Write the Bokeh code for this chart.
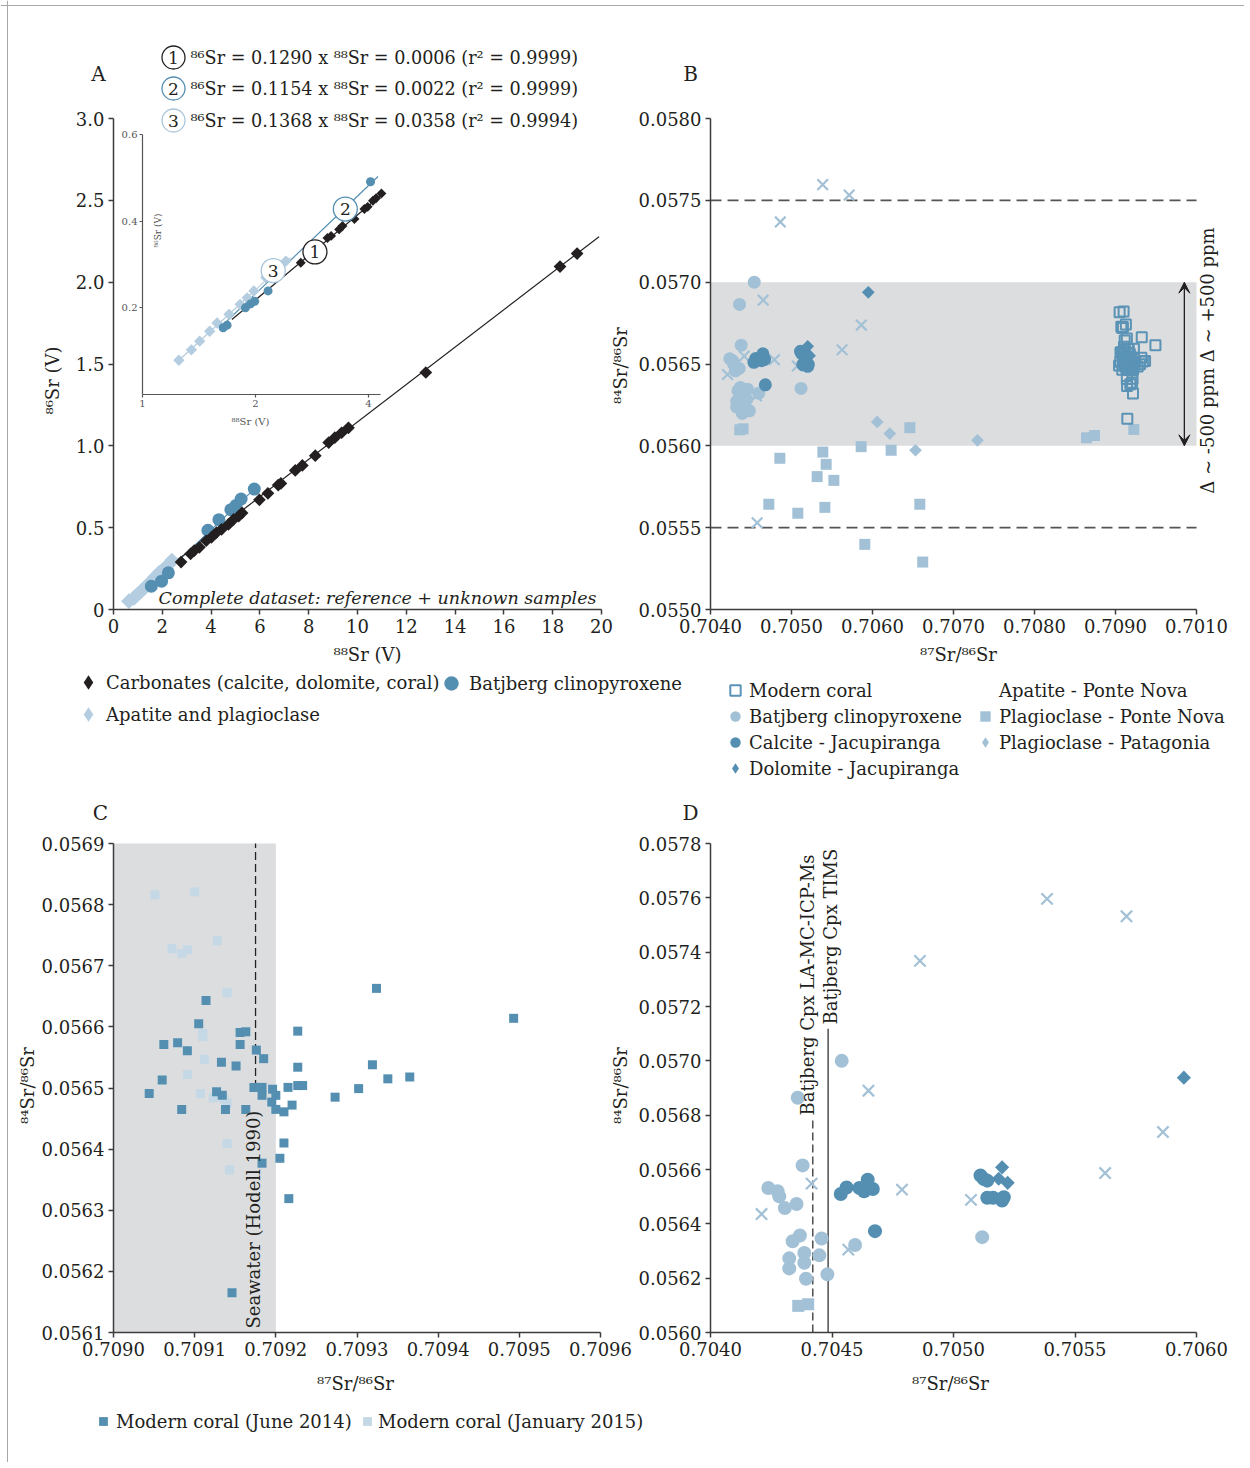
import math
from bokeh.plotting import figure
from bokeh.models import (Range1d, LinearAxis, LogAxis, LogScale, FixedTicker,
                          NumeralTickFormatter, PrintfTickFormatter, Label, Legend,
                          LegendItem, Arrow, VeeHead, Span)
from bokeh.embed import file_html
from bokeh.resources import INLINE
from bokeh.core.properties import value

# ======================= DATA =======================
# ---- Panel A (main): 88Sr (V) vs 86Sr (V)
a_carb_88 = [19.0, 18.3, 12.8, 9.63, 9.35, 9.07, 8.82, 8.27, 7.74, 7.45, 6.86, 6.75, 6.33,
             5.98, 5.27, 5.13, 4.92, 4.71, 4.43, 4.22, 4.01, 3.80, 3.52, 3.31, 3.16, 2.77]
a_carb_86 = [2.175, 2.095, 1.448, 1.11, 1.08, 1.05, 1.02, 0.94, 0.88, 0.85, 0.77, 0.76, 0.71,
             0.67, 0.59, 0.57, 0.55, 0.52, 0.49, 0.47, 0.44, 0.42, 0.38, 0.36, 0.34, 0.29]
a_cpx_88 = [5.77, 5.23, 5.02, 4.81, 4.32, 3.87, 2.25, 1.97, 1.55]
a_cpx_86 = [0.736, 0.675, 0.636, 0.61, 0.549, 0.484, 0.224, 0.173, 0.142]
a_apa_88 = [0.63, 0.84, 0.98, 1.13, 1.27, 1.41, 1.55, 1.69, 1.87, 2.04, 2.25, 2.39]
a_apa_86 = [0.051, 0.071, 0.091, 0.112, 0.132, 0.152, 0.173, 0.197, 0.224, 0.244, 0.274, 0.299]
a_fit1_88, a_fit1_86 = [1.5, 19.9], [0.174, 2.278]
a_fit2_88, a_fit2_86 = [1.5, 5.8], [0.135, 0.740]
a_fit3_88, a_fit3_86 = [0.6, 2.6], [0.05, 0.32]

# ---- Panel A inset
i_carb_88 = [2.64, 3.11, 3.18, 3.34, 3.41, 3.67, 3.90, 3.98, 4.11, 4.19, 4.33]
i_carb_86 = [0.304, 0.361, 0.366, 0.381, 0.389, 0.405, 0.428, 0.433, 0.447, 0.453, 0.464]
i_cpx_88 = [4.05, 2.16, 1.99, 1.94, 1.88, 1.68, 1.64]
i_cpx_86 = [0.491, 0.239, 0.215, 0.209, 0.200, 0.160, 0.154]
i_apa_88 = [1.25, 1.35, 1.42, 1.51, 1.58, 1.70, 1.82, 1.90, 1.98, 2.13, 2.28, 2.41]
i_apa_86 = [0.079, 0.103, 0.123, 0.146, 0.165, 0.185, 0.208, 0.223, 0.239, 0.270, 0.285, 0.308]
i_fit1_88, i_fit1_86 = [1.73, 4.41], [0.173, 0.466]
i_fit2_88, i_fit2_86 = [1.64, 4.24], [0.161, 0.503]
i_fit3_88, i_fit3_86 = [1.25, 2.48], [0.079, 0.316]
i_tag_text = ["1", "2", "3"]
i_tag_88 = [2.88, 3.47, 2.23]
i_tag_86 = [0.329, 0.428, 0.286]

equations = ["\u2078\u2076Sr = 0.1290 x \u2078\u2078Sr = 0.0006 (r\u00b2 = 0.9999)",
             "\u2078\u2076Sr = 0.1154 x \u2078\u2078Sr = 0.0022 (r\u00b2 = 0.9999)",
             "\u2078\u2076Sr = 0.1368 x \u2078\u2078Sr = 0.0358 (r\u00b2 = 0.9994)"]

# ---- Panels B and D: 87Sr/86Sr vs 84Sr/86Sr
bat_x = [0.704540, 0.704359, 0.704379, 0.704238, 0.704276, 0.704283, 0.704306, 0.704354,
         0.704457, 0.704368, 0.704338, 0.704595, 0.704386, 0.704324, 0.704448, 0.704386,
         0.704324, 0.704393, 0.704481, 0.705118]
bat_y = [0.057000, 0.056864, 0.056615, 0.056532, 0.056520, 0.056501, 0.056458, 0.056473,
         0.056346, 0.056357, 0.056336, 0.056322, 0.056293, 0.056273, 0.056284, 0.056257,
         0.056236, 0.056198, 0.056214, 0.056351]
cal_x = [0.704536, 0.704560, 0.704613, 0.704632, 0.704647, 0.704668, 0.704677,
         0.705111, 0.705125, 0.705139, 0.705139, 0.705163, 0.705207, 0.705200]
cal_y = [0.056510, 0.056534, 0.056532, 0.056520, 0.056562, 0.056528, 0.056373,
         0.056578, 0.056565, 0.056559, 0.056496, 0.056496, 0.056498, 0.056486]
dol_x = [0.705948, 0.705200, 0.705223, 0.705186]
dol_y = [0.056938, 0.056608, 0.056551, 0.056566]
apa_x = [0.705385, 0.705712, 0.704862, 0.704650, 0.705862, 0.705624, 0.704416, 0.704788,
         0.705072, 0.704210, 0.704567, 0.704576]
apa_y = [0.057596, 0.057532, 0.057368, 0.056890, 0.056738, 0.056587, 0.056548, 0.056526,
         0.056488, 0.056436, 0.056305, 0.055530]
pn_x = [0.704361, 0.704402, 0.704856, 0.705387, 0.705428, 0.705317, 0.705523, 0.704720,
        0.705078, 0.705412, 0.705860, 0.706230, 0.706461, 0.706584, 0.705905, 0.706620,
        0.708642, 0.708741, 0.709226]
pn_y = [0.056098, 0.056104, 0.055924, 0.055962, 0.055887, 0.055812, 0.055789, 0.055643,
        0.055588, 0.055624, 0.055995, 0.055973, 0.056111, 0.055643, 0.055398, 0.055290,
        0.056049, 0.056063, 0.056100]
pat_x = [0.706058, 0.706214, 0.706531, 0.707296]
pat_y = [0.056146, 0.056075, 0.055973, 0.056034]
b_band = (0.0560, 0.0570)
b_limits = (0.0555, 0.0575)
d_lamc_x, d_lamc_top = 0.704421, 0.056793
d_tims_x, d_tims_top = 0.704484, 0.057118

# ---- Panel C: modern coral
jun_x = [0.709044, 0.709060, 0.709062, 0.709079, 0.709091, 0.709084, 0.709105, 0.709114,
         0.709133, 0.709127, 0.709134, 0.709138, 0.709151, 0.709156, 0.709156, 0.709163,
         0.709163, 0.709176, 0.709185, 0.709173, 0.709183, 0.709183, 0.709183, 0.709146,
         0.709196, 0.709200, 0.709195, 0.709200, 0.709210, 0.709215, 0.709220, 0.709210,
         0.709205, 0.709216, 0.709227, 0.709227, 0.709227, 0.709233, 0.709273, 0.709324,
         0.709493, 0.709319, 0.709338, 0.709365, 0.709302]
jun_y = [0.056491, 0.056513, 0.056571, 0.056574, 0.056561, 0.056465, 0.056605, 0.056643,
         0.056542, 0.056494, 0.056488, 0.056465, 0.056536, 0.056571, 0.056591, 0.056592,
         0.056465, 0.056562, 0.056548, 0.056501, 0.056501, 0.056488, 0.056377, 0.056165,
         0.056498, 0.056488, 0.056477, 0.056465, 0.056461, 0.056501, 0.056472, 0.056410,
         0.056385, 0.056319, 0.056593, 0.056534, 0.056504, 0.056504, 0.056485, 0.056663,
         0.056614, 0.056538, 0.056515, 0.056518, 0.056499]
jan_x = [0.709051, 0.709100, 0.709072, 0.709084, 0.709091, 0.709128, 0.709140, 0.709110,
         0.709110, 0.709112, 0.709091, 0.709107, 0.709123, 0.709136, 0.709140, 0.709140,
         0.709143]
jan_y = [0.056816, 0.056821, 0.056728, 0.056720, 0.056726, 0.056741, 0.056656, 0.056589,
         0.056584, 0.056547, 0.056522, 0.056491, 0.056484, 0.056482, 0.056475, 0.056409,
         0.056366]
c_band = (0.7090, 0.7092)
c_seawater_x, c_seawater_y = 0.709175, (0.05650, 0.0569)

# ---- tick values
a_xticks = [0, 2, 4, 6, 8, 10, 12, 14, 16, 18, 20]
a_yticks = [0, 0.5, 1.0, 1.5, 2.0, 2.5, 3.0]
i_xticks = [1, 2, 4]
i_yticks = [0.2, 0.4, 0.6]
b_xticks = [0.7040, 0.7050, 0.7060, 0.7070, 0.7080, 0.7090, 0.7100]
b_yticks = [0.0550, 0.0555, 0.0560, 0.0565, 0.0570, 0.0575, 0.0580]
c_xticks = [0.7090, 0.7091, 0.7092, 0.7093, 0.7094, 0.7095, 0.7096]
c_yticks = [0.0561, 0.0562, 0.0563, 0.0564, 0.0565, 0.0566, 0.0567, 0.0568, 0.0569]
d_xticks = [0.7040, 0.7045, 0.7050, 0.7055, 0.7060]
d_yticks = [0.0560, 0.0562, 0.0564, 0.0566, 0.0568, 0.0570, 0.0572, 0.0574, 0.0576, 0.0578]

# ======================= STYLE / LAYOUT =======================
FONT = "DejaVu Serif"
TXT = "#231f20"
AXC = "#3c3c3c"
BLACK = "#231f20"
DARK = "#548fb2"
LIGHT = "#a3c1d6"
LIGHT_A = "#b4cde0"
PALE = "#c4d8e6"
BAND = "#dcdddf"

W, H = 1244, 1462
OX, OY = 0, 0   # canvas origin on the photographed page

p = figure(width=W, height=H, x_range=Range1d(OX, OX + W), y_range=Range1d(OY + H, OY),
           x_axis_type=None, y_axis_type=None, toolbar_location=None,
           output_backend="svg", min_border=0, outline_line_color=None)

# thin frame lines (left and top) around the whole figure
p.add_layout(Span(location=7, dimension="height", line_color="#a8a8a8", line_width=1))
p.add_layout(Span(location=5, dimension="width", line_color="#a8a8a8", line_width=1))


def lin_map(v0, p0, v1, p1, lo, hi):
    s = (v1 - v0) / (p1 - p0)
    return Range1d(start=v0 + (lo - p0) * s, end=v0 + (hi - p0) * s)


def log_map(v0, p0, v1, p1, lo, hi):
    l0, l1 = math.log10(v0), math.log10(v1)
    s = (l1 - l0) / (p1 - p0)
    return Range1d(start=10 ** (l0 + (lo - p0) * s), end=10 ** (l0 + (hi - p0) * s))


GEOM = {
    "A": dict(x=(0, 113, 20, 601), y=(0, 609, 3.0, 118)),
    "B": dict(x=(0.7040, 710, 0.7100, 1196), y=(0.0550, 609, 0.0580, 118)),
    "C": dict(x=(0.7090, 113, 0.7096, 600), y=(0.0561, 1332, 0.0569, 843)),
    "D": dict(x=(0.7040, 710, 0.7060, 1196), y=(0.0560, 1332, 0.0578, 843)),
}
xr, yr = {}, {}
for k, g in GEOM.items():
    xr[k] = lin_map(*g["x"], OX, OX + W)
    yr[k] = lin_map(*g["y"], OY + H, OY)
xr["I"] = log_map(1, 142, 4, 368, OX, OX + W)
yr["I"] = lin_map(0, 394, 0.6, 134, OY + H, OY)
p.extra_x_ranges = xr
p.extra_y_ranges = yr
p.extra_x_scales = {"I": LogScale()}


def axis_pair(name, xticks, yticks, xfmt, yfmt, xb, yb, size="18px", tick=5, lw=1.5,
              color=AXC, lcolor=TXT, standoff=4, log_x=False):
    common = dict(x_range_name=name, y_range_name=name, axis_line_color=color,
                  axis_line_width=lw, major_tick_line_color=color, major_tick_line_width=lw,
                  major_tick_in=0, major_tick_out=tick, minor_tick_line_color=None,
                  major_label_text_font=FONT, major_label_text_font_size=size,
                  major_label_text_color=lcolor, major_label_standoff=standoff)
    XA = LogAxis if log_x else LinearAxis
    xa = XA(fixed_location=yb[0], bounds=xb, ticker=FixedTicker(ticks=xticks),
            formatter=xfmt, **common)
    ya = LinearAxis(fixed_location=xb[0], bounds=yb, ticker=FixedTicker(ticks=yticks),
                    formatter=yfmt, **common)
    p.add_layout(xa, "below")
    p.add_layout(ya, "left")
    return xa, ya


def label(x, y, s, size="18px", align="center", baseline="middle", angle=0.0,
          style="normal", color=TXT):
    p.add_layout(Label(x=x, y=y, text=s, text_font=FONT, text_font_size=size,
                       text_align=align, text_baseline=baseline, angle=angle,
                       text_font_style=style, text_color=color))


def legend(entries, left, bottom, gw, gh, standoff=0, size="18px"):
    items = [LegendItem(label=t, renderers=[r]) for t, r in entries]
    lg = Legend(items=items, location=(left - OX, OY + H - bottom), orientation="vertical",
                glyph_width=gw, glyph_height=gh, label_standoff=standoff, label_height=16,
                label_width=10, padding=0, margin=0, spacing=0, border_line_color=None,
                background_fill_alpha=0, label_text_font=FONT, label_text_font_size=size,
                label_text_color=TXT)
    p.add_layout(lg)


NAN = [float("nan")]
ROT = math.pi / 4
VERT = math.pi / 2

# ======================= PANEL A =======================
A = dict(x_range_name="A", y_range_name="A")
I = dict(x_range_name="I", y_range_name="I")
p.line(a_fit3_88, a_fit3_86, line_color=LIGHT_A, line_width=1.3, **A)
p.line(a_fit2_88, a_fit2_86, line_color=DARK, line_width=1.2, **A)
p.line(a_fit1_88, a_fit1_86, line_color=BLACK, line_width=1.2, **A)
rA_apa = p.scatter(a_apa_88, a_apa_86, marker="square", angle=ROT, size=11,
                   fill_color=LIGHT_A, line_color=None, **A)
rA_cpx = p.scatter(a_cpx_88, a_cpx_86, marker="circle", size=13, fill_color=DARK,
                   line_color=None, **A)
rA_carb = p.scatter(a_carb_88, a_carb_86, marker="square", angle=ROT, size=9,
                    fill_color=BLACK, line_color=None, **A)

# inset
p.line(i_fit3_88, i_fit3_86, line_color=LIGHT_A, line_width=1.2, **I)
p.line(i_fit2_88, i_fit2_86, line_color=DARK, line_width=1.2, **I)
p.line(i_fit1_88, i_fit1_86, line_color=BLACK, line_width=1.2, **I)
p.scatter(i_apa_88, i_apa_86, marker="square", angle=ROT, size=8, fill_color=LIGHT_A,
          line_color=None, **I)
p.scatter(i_cpx_88, i_cpx_86, marker="circle", size=9, fill_color=DARK, line_color=None, **I)
p.scatter(i_carb_88, i_carb_86, marker="square", angle=ROT, size=7, fill_color=BLACK,
          line_color=None, **I)
ring_cols = [BLACK, DARK, "#a9c6da"]
p.scatter(i_tag_88, i_tag_86, marker="circle", size=24, fill_color="white",
          line_color=ring_cols, line_width=1.3, **I)
p.text(i_tag_88, i_tag_86, text=i_tag_text, text_font=value(FONT), text_font_size="17px",
       text_align="center", text_baseline="middle", text_color=TXT, **I)

axA = axis_pair("A", a_xticks, a_yticks, PrintfTickFormatter(format="%d"),
                PrintfTickFormatter(format="%.1f"), (0, 20), (0, 3.0))
axA[1].major_label_overrides = {0: "0"}
axis_pair("I", i_xticks, i_yticks, PrintfTickFormatter(format="%d"),
          PrintfTickFormatter(format="%.1f"), (1, 4.3), (0, 0.6), size="10px", tick=3,
          lw=1.2, color="#555555", lcolor="#555555", standoff=2, log_x=True)

# equations legend (circled numbers) above panel A
eq_px_x, eq_px_y = [173, 173, 173], [57, 88, 120]
p.scatter(eq_px_x, eq_px_y, marker="circle", size=23, fill_color="white",
          line_color=ring_cols, line_width=1.3)
for k in range(3):
    label(eq_px_x[k], eq_px_y[k], i_tag_text[k], size="17px")
    label(190, eq_px_y[k], equations[k], align="left", size="17.6px")

label(98, 73, "A", size="20px")
label(367, 654, "\u2078\u2078Sr (V)")
label(52, 380, "\u2078\u2076Sr (V)", angle=VERT)
label(250, 421, "\u2078\u2078Sr (V)", size="10px", color="#555555")
label(157, 230, "\u2078\u2076Sr (V)", size="9px", angle=VERT, color="#555555")
label(596, 597, "Complete dataset: reference + unknown samples", align="right",
      style="italic", size="17.5px")

lgA_carb = p.scatter(NAN, NAN, marker="diamond", fill_color=BLACK, line_color=None)
lgA_apa = p.scatter(NAN, NAN, marker="diamond", fill_color=LIGHT_A, line_color=None)
legend([("Carbonates (calcite, dolomite, coral)", lgA_carb)], 70, 700, 36, 36)
legend([("Apatite and plagioclase", lgA_apa)], 70, 732, 36, 36)
legend([("Batjberg clinopyroxene", rA_cpx)], 433, 701, 36, 36)

# ======================= PANEL B =======================
B = dict(x_range_name="B", y_range_name="B")
p.quad(left=[b_xticks[0]], right=[b_xticks[-1]], bottom=[b_band[0]], top=[b_band[1]],
       fill_color=BAND, line_color=None, **B)
p.multi_line([[b_xticks[0], b_xticks[-1]]] * 2, [[b_limits[0]] * 2, [b_limits[1]] * 2],
             line_color="#555555", line_width=1.6, line_dash="11 6", **B)
rB_pn = p.scatter(pn_x, pn_y, marker="square", size=11, fill_color=LIGHT, line_color=None, **B)
rB_pat = p.scatter(pat_x, pat_y, marker="square", angle=ROT, size=9, fill_color=LIGHT,
                   line_color=None, **B)
rB_apa = p.scatter(apa_x, apa_y, marker="x", size=15, line_color=LIGHT, line_width=2.2, **B)
rB_bat = p.scatter(bat_x, bat_y, marker="circle", size=13, fill_color=LIGHT, line_color=None, **B)
rB_cal = p.scatter(cal_x, cal_y, marker="circle", size=13, fill_color=DARK, line_color=None, **B)
rB_dol = p.scatter(dol_x, dol_y, marker="square", angle=ROT, size=9, fill_color=DARK,
                   line_color=None, **B)
rB_cor = p.scatter(jun_x + jan_x, jun_y + jan_y, marker="square", size=10, fill_color=None,
                   line_color="#5a93b6", line_width=2, **B)
p.add_layout(Arrow(x_start=0.70985, y_start=b_band[0], x_end=0.70985, y_end=b_band[1],
                   start=VeeHead(size=11, fill_color=BLACK, line_color=BLACK),
                   end=VeeHead(size=11, fill_color=BLACK, line_color=BLACK),
                   line_color=BLACK, line_width=1.3, **B))
axB = axis_pair("B", b_xticks, b_yticks, NumeralTickFormatter(format="0.0000"),
                NumeralTickFormatter(format="0.0000"), (b_xticks[0], b_xticks[-1]),
                (b_yticks[0], b_yticks[-1]))
axB[0].major_label_overrides = {0.7100: "0.7010"}

label(690, 73, "B", size="20px")
label(958, 654, "\u2078\u2077Sr/\u2078\u2076Sr")
label(620, 365, "\u2078\u2074Sr/\u2078\u2076Sr", angle=VERT)
label(1207, 360, "\u0394 ~ -500 ppm \u0394 ~ +500 ppm", angle=VERT)

lg_none = p.scatter(NAN, NAN, marker="square", fill_alpha=0, line_alpha=0)
lgB_dol = p.scatter(NAN, NAN, marker="diamond", fill_color=DARK, line_color=None)
lgB_pat = p.scatter(NAN, NAN, marker="diamond", fill_color=LIGHT, line_color=None)
legend([("Modern coral", rB_cor), ("Batjberg clinopyroxene", rB_bat),
        ("Calcite - Jacupiranga", rB_cal), ("Dolomite - Jacupiranga", lgB_dol)],
       721, 781, 28, 26)
legend([("Apatite - Ponte Nova", lg_none), ("Plagioclase - Ponte Nova", rB_pn),
        ("Plagioclase - Patagonia", lgB_pat)], 971, 755, 28, 26)

# ======================= PANEL C =======================
C = dict(x_range_name="C", y_range_name="C")
p.quad(left=[c_band[0]], right=[c_band[1]], bottom=[c_yticks[0]], top=[c_yticks[-1]],
       fill_color=BAND, line_color=None, **C)
p.line([c_seawater_x] * 2, list(c_seawater_y), line_color="#222222", line_width=1.3,
       line_dash="8 4", **C)
rC_jan = p.scatter(jan_x, jan_y, marker="square", size=9, fill_color=PALE, line_color=None, **C)
rC_jun = p.scatter(jun_x, jun_y, marker="square", size=9, fill_color=DARK, line_color=None, **C)
axis_pair("C", c_xticks, c_yticks, NumeralTickFormatter(format="0.0000"),
          NumeralTickFormatter(format="0.0000"), (c_xticks[0], c_xticks[-1]),
          (c_yticks[0], c_yticks[-1]))
label(100, 812, "C", size="20px")
label(355, 1383, "\u2078\u2077Sr/\u2078\u2076Sr")
label(27, 1085, "\u2078\u2074Sr/\u2078\u2076Sr", angle=VERT)
label(253, 1328, "Seawater (Hodell 1990)", align="left", angle=VERT)
legend([("Modern coral (June 2014)", rC_jun)], 92, 1432, 22, 22, 2)
legend([("Modern coral (January 2015)", rC_jan)], 356, 1432, 22, 22, 0)

# ======================= PANEL D =======================
D = dict(x_range_name="D", y_range_name="D")


def in_d(xs, ys):
    keep = [(x, y) for x, y in zip(xs, ys)
            if d_xticks[0] <= x <= d_xticks[-1] and d_yticks[0] <= y <= d_yticks[-1]]
    return [k[0] for k in keep], [k[1] for k in keep]


p.line([d_lamc_x] * 2, [d_yticks[0], d_lamc_top], line_color="#333333", line_width=1.3,
       line_dash="8 4", **D)
p.line([d_tims_x] * 2, [d_yticks[0], d_tims_top], line_color="#333333", line_width=1.3, **D)
p.scatter(*in_d(pn_x, pn_y), marker="square", size=12, fill_color=LIGHT, line_color=None, **D)
p.scatter(*in_d(apa_x, apa_y), marker="x", size=16, line_color=LIGHT, line_width=2.2, **D)
p.scatter(*in_d(bat_x, bat_y), marker="circle", size=14, fill_color=LIGHT, line_color=None, **D)
p.scatter(*in_d(cal_x, cal_y), marker="circle", size=14, fill_color=DARK, line_color=None, **D)
p.scatter(*in_d(dol_x, dol_y), marker="square", angle=ROT, size=10, fill_color=DARK,
          line_color=None, **D)
axis_pair("D", d_xticks, d_yticks, NumeralTickFormatter(format="0.0000"),
          NumeralTickFormatter(format="0.0000"), (d_xticks[0], d_xticks[-1]),
          (d_yticks[0], d_yticks[-1]))
label(690, 812, "D", size="20px")
label(950, 1383, "\u2078\u2077Sr/\u2078\u2076Sr")
label(620, 1085, "\u2078\u2074Sr/\u2078\u2076Sr", angle=VERT)
label(807, 1115, "Batjberg Cpx LA-MC-ICP-Ms", align="left", angle=VERT)
label(830, 1024, "Batjberg Cpx TIMS", align="left", angle=VERT)

open("out.html", "w").write(file_html(p, INLINE))
